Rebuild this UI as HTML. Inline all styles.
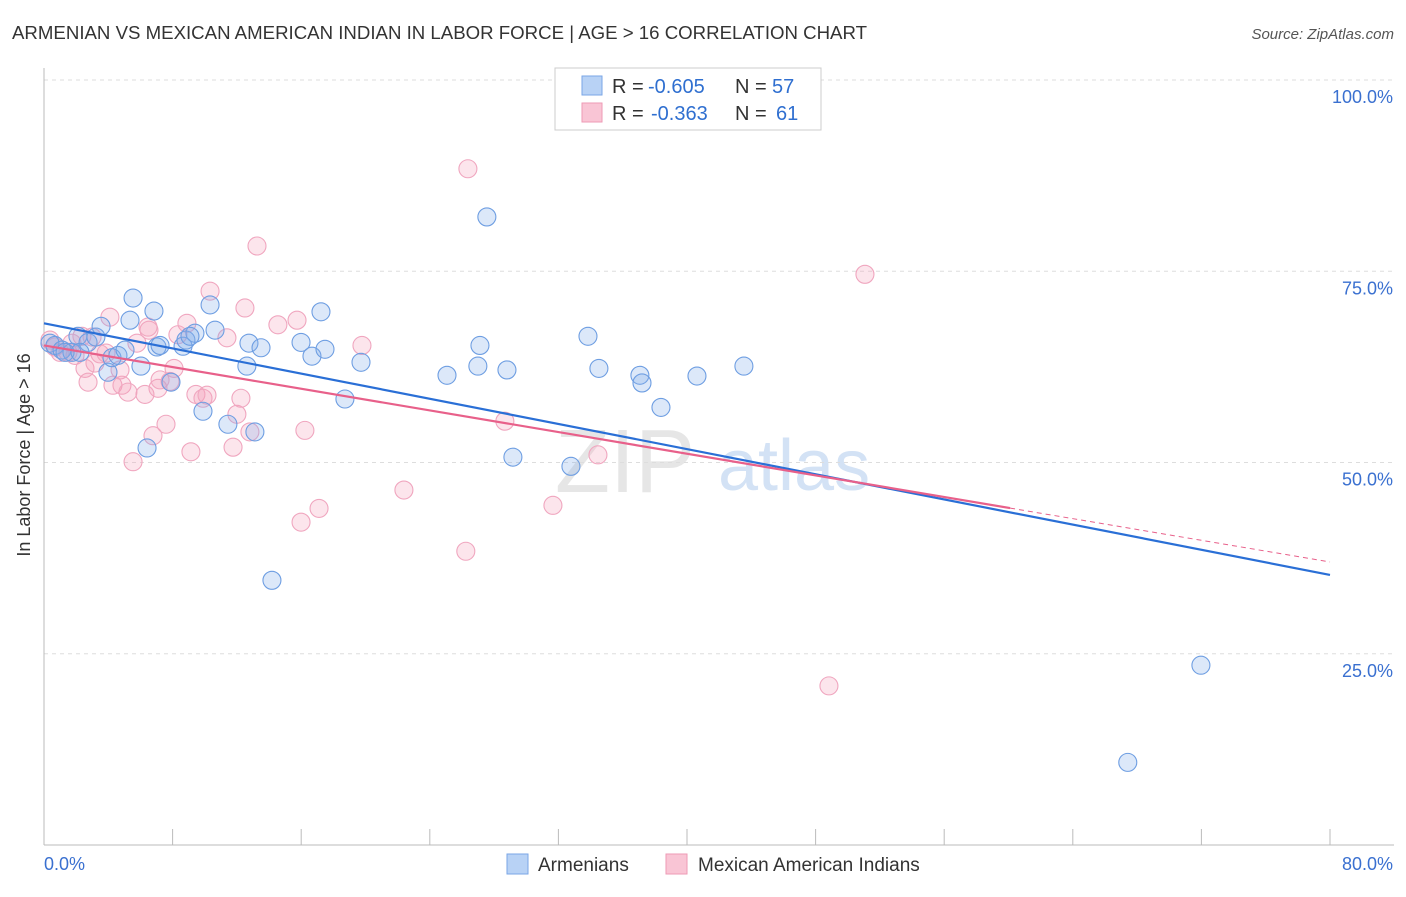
<!DOCTYPE html>
<html><head><meta charset="utf-8"><style>
body{margin:0;background:#fff;font-family:"Liberation Sans",sans-serif;}
svg text{font-family:"Liberation Sans",sans-serif;}
</style></head><body>
<svg id="chart" width="1406" height="892" xmlns="http://www.w3.org/2000/svg">
<text x="12" y="39" font-size="18" fill="#333" textLength="855" lengthAdjust="spacingAndGlyphs">ARMENIAN VS MEXICAN AMERICAN INDIAN IN LABOR FORCE | AGE &gt; 16 CORRELATION CHART</text>
<text x="1394" y="39" font-size="15" fill="#555" text-anchor="end" font-style="italic">Source: ZipAtlas.com</text>
<text x="30" y="455" font-size="18" fill="#333" text-anchor="middle" transform="rotate(-90 30 455)">In Labor Force | Age &gt; 16</text>
<text x="555" y="492" font-size="90" fill="#e6e6e6" font-family="Liberation Serif">ZIP</text>
<text x="718" y="490" font-size="72" fill="#d3e2f5">atlas</text>
<g id="grid"></g><g id="axes"></g><g id="marks"></g><g id="lines"></g>
<g>
<rect x="555" y="68" width="266" height="62" fill="#fff" stroke="#ccc"/>
<rect x="582" y="76" width="20" height="19" fill="#b8d2f5" stroke="#7aa6e6"/>
<rect x="582" y="103" width="20" height="19" fill="#f9c5d5" stroke="#ee9ab5"/>
<text x="612" y="93" font-size="20" fill="#333">R =</text>
<text x="648" y="93" font-size="20" fill="#2f6fd0">-0.605</text>
<text x="735" y="93" font-size="20" fill="#333">N =</text>
<text x="772" y="93" font-size="20" fill="#2f6fd0">57</text>
<text x="612" y="120" font-size="20" fill="#333">R =</text>
<text x="651" y="120" font-size="20" fill="#2f6fd0">-0.363</text>
<text x="735" y="120" font-size="20" fill="#333">N =</text>
<text x="776" y="120" font-size="20" fill="#2f6fd0">61</text>
</g>
<g>
<rect x="507" y="854" width="21" height="20" fill="#b8d2f5" stroke="#7aa6e6"/>
<text x="538" y="871" font-size="19" fill="#333">Armenians</text>
<rect x="666" y="854" width="21" height="20" fill="#f9c5d5" stroke="#ee9ab5"/>
<text x="698" y="871" font-size="19" fill="#333">Mexican American Indians</text>
</g>
</svg>
<script>
const yTicks=[25,50,75,100];
const yTickLabels=["25.0%","50.0%","75.0%","100.0%"];
const xTicks=[0,8,16,24,32,40,48,56,64,72,80];
const blueX=[0.37,0.68,1.12,1.74,2.11,2.74,3.23,3.55,3.98,4.23,4.6,5.04,5.35,5.54,6.03,6.41,6.84,7.03,7.22,7.9,8.65,8.83,9.39,9.89,10.33,10.64,11.44,12.62,12.75,13.12,13.5,14.18,15.99,16.67,17.23,17.48,18.72,19.72,25.07,26.99,27.12,27.55,28.8,29.17,32.78,33.84,34.52,37.07,37.2,38.38,40.62,43.54,67.42,71.97,1.31,2.24,9.08];
const blueY=[65.6,65.3,64.7,64.4,66.5,65.7,66.4,67.8,61.8,63.7,64.0,64.7,68.6,71.5,62.6,51.9,69.8,65.1,65.3,60.5,65.2,66.0,66.9,56.7,70.6,67.3,55.0,62.6,65.6,54.0,65.0,34.6,65.7,63.9,69.7,64.8,58.3,63.1,61.4,62.6,65.3,82.1,62.1,50.7,49.5,66.5,62.3,61.4,60.4,57.2,61.3,62.6,10.8,23.5,64.4,64.4,66.5];
const pinkX=[0.37,0.68,1.0,1.49,1.93,2.36,2.55,2.74,3.17,3.48,3.86,4.1,4.29,4.73,4.85,5.22,5.54,5.78,6.28,6.53,6.78,7.09,7.22,7.59,7.84,8.09,8.33,8.89,9.14,9.45,9.89,10.14,10.33,11.38,11.76,12.0,12.25,12.5,12.81,13.25,14.55,15.74,15.99,16.23,17.11,19.78,22.39,26.24,26.37,28.67,31.66,34.46,48.83,51.07,6.47,2.99,1.74];
const pinkY=[66.0,65.1,64.4,64.4,64.0,66.5,62.3,60.5,63.0,64.2,64.3,69.0,60.1,62.1,60.1,59.2,50.1,65.6,58.9,67.3,53.5,59.7,60.8,55.0,60.6,62.3,66.7,68.2,51.4,58.9,58.4,58.8,72.4,66.3,52.0,56.3,58.4,70.2,54.0,78.3,68.0,68.6,42.2,54.2,44.0,65.3,46.4,38.4,88.4,55.4,44.4,51.0,20.8,74.6,67.7,66.4,65.6];
const blueTrend=[68.2,35.3];
const pinkTrend=[65.3,37.0];
const pinkSolidEnd=60.1;
const X=v=>44+v/80*1286, Y=v=>845-v/100*765;
const NS="http://www.w3.org/2000/svg";
function mk(tag,attrs,parent){const e=document.createElementNS(NS,tag);for(const k in attrs)e.setAttribute(k,attrs[k]);document.getElementById(parent).appendChild(e);return e;}
yTicks.forEach((t,i)=>{
 const l=mk('line',{x1:44,x2:1394,y1:Y(t),y2:Y(t),stroke:'#ddd','stroke-dasharray':'4,4'},'grid');
 
 
 const tx=mk('text',{x:1393,y:Y(t)+23,'font-size':18,fill:'#3a70d0','text-anchor':'end'},'grid');
 tx.textContent=yTickLabels[i];
 
 
});
const ax=mk('line',{x1:44,x2:1394,y1:845,y2:845,stroke:'#bbb'},'axes');


const ay=mk('line',{x1:44,x2:44,y1:68,y2:845,stroke:'#bbb'},'axes');


xTicks.forEach(t=>{
 const l=mk('line',{x1:X(t),x2:X(t),y1:829,y2:845,stroke:'#bbb'},'axes');
 
 
});
const xl0=mk('text',{x:44,y:870,'font-size':18,fill:'#3a70d0'},'axes');xl0.textContent=xTicks[0].toFixed(1)+'%';


const xl1=mk('text',{x:1393,y:870,'font-size':18,fill:'#3a70d0','text-anchor':'end'},'axes');xl1.textContent=xTicks[xTicks.length-1].toFixed(1)+'%';


pinkX.forEach((v,i)=>{
 const c=mk('circle',{cx:X(v),cy:Y(pinkY[i]),r:9,fill:'rgba(244,160,188,0.28)',stroke:'#f0a6bf','stroke-width':1.1},'marks');
 
 
});
blueX.forEach((v,i)=>{
 const c=mk('circle',{cx:X(v),cy:Y(blueY[i]),r:9,fill:'rgba(130,172,235,0.28)',stroke:'#6e9ee2','stroke-width':1.1},'marks');
 
 
});
const bl=mk('line',{x1:X(0),y1:Y(blueTrend[0]),x2:X(80),y2:Y(blueTrend[1]),stroke:'#2a6fd6','stroke-width':2.2},'lines');


const pm=pinkTrend[0]+(pinkTrend[1]-pinkTrend[0])*pinkSolidEnd/80;
const pl=mk('line',{x1:X(0),y1:Y(pinkTrend[0]),x2:X(pinkSolidEnd),y2:Y(pm),stroke:'#e8608a','stroke-width':2.2},'lines');


const pd=mk('line',{x1:X(pinkSolidEnd),y1:Y(pm),x2:X(80),y2:Y(pinkTrend[1]),stroke:'#e8608a','stroke-width':1,'stroke-dasharray':'5,4'},'lines');


</script>
</body></html>
